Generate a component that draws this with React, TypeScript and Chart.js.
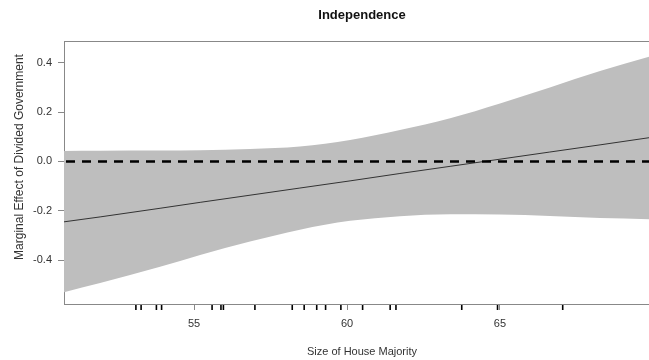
import React, { useEffect, useRef } from "react";
import { Chart, registerables } from "chart.js";

Chart.register(...registerables);

// ---- data ----
const xValues = [50.75, 51.93, 53.89, 55.2, 56.83, 58.46, 60.1, 61.73, 63.37, 65.0, 66.63, 68.27, 69.87, 70.23];
const estimate = [-0.245, -0.225, -0.19, -0.166, -0.137, -0.108, -0.079, -0.049, -0.02, 0.009, 0.038, 0.067, 0.096, 0.102];
const upperCI = [0.042, 0.043, 0.044, 0.045, 0.05, 0.06, 0.087, 0.127, 0.175, 0.235, 0.3, 0.366, 0.424, 0.437];
const lowerCI = [-0.53, -0.493, -0.427, -0.379, -0.325, -0.277, -0.241, -0.222, -0.214, -0.215, -0.221, -0.229, -0.234, -0.236];
const rugValues = [53.1, 53.27, 53.77, 53.94, 55.59, 55.88, 55.96, 56.99, 58.21, 58.6, 59.01, 59.3, 59.8, 60.51, 61.41, 61.6, 63.75, 64.92, 67.05];
const referenceLine = [0, 0];
const xTicks = [55, 60, 65];
const yTicks = [-0.4, -0.2, 0, 0.2, 0.4];
const xRange = [50.75, 70.23];
const yRange = [-0.578, 0.488];
const titleText = "Independence";
const xLabel = "Size of House Majority";
const yLabel = "Marginal Effect of Divided Government";

const FONT = "'Liberation Sans', Arial, Helvetica, sans-serif";

const decorPlugin = {
  id: "decor",
  afterDraw(chart: any) {
    const { ctx, chartArea, scales } = chart;
    const xs = scales.x;
    ctx.save();
    // top border
    ctx.strokeStyle = "#888";
    ctx.lineWidth = 1;
    ctx.beginPath();
    ctx.moveTo(chartArea.left, chartArea.top + 0.5);
    ctx.lineTo(chartArea.right, chartArea.top + 0.5);
    ctx.stroke();
    // rug
    ctx.strokeStyle = "#000";
    ctx.lineWidth = 1.6;
    rugValues.forEach((v) => {
      const px = xs.getPixelForValue(v);
      ctx.beginPath();
      ctx.moveTo(px, chartArea.bottom + 1);
      ctx.lineTo(px, chartArea.bottom + 6);
      ctx.stroke();
    });
    // title
    const cx = (chartArea.left + chartArea.right) / 2;
    ctx.fillStyle = "#111";
    ctx.font = `bold 13px ${FONT}`;
    ctx.textAlign = "center";
    ctx.textBaseline = "middle";
    ctx.fillText(titleText, cx, 15);
    // x label
    ctx.fillStyle = "#333";
    ctx.font = `11px ${FONT}`;
    ctx.textBaseline = "alphabetic";
    ctx.fillText(xLabel, cx, 355);
    // y label
    ctx.translate(20, 157);
    ctx.rotate(-Math.PI / 2);
    ctx.font = `12px ${FONT}`;
    ctx.textBaseline = "middle";
    ctx.fillText(yLabel, 0, 0);
    ctx.restore();
  },
};

export default function App() {
  const ref = useRef<HTMLCanvasElement>(null);
  useEffect(() => {
    if (!ref.current) return;
    const pts = (ys: number[]) => xValues.map((x, i) => ({ x, y: ys[i] }));
    const chart = new Chart(ref.current, {
      type: "line",
      data: {
        datasets: [
          {
            data: xRange.map((x, i) => ({ x, y: referenceLine[i] })),
            borderColor: "#000",
            borderWidth: 2.5,
            borderDash: [9, 7],
            borderDashOffset: -2,
            pointRadius: 0,
            fill: false,
          },
          {
            data: pts(estimate),
            borderColor: "#333",
            borderWidth: 1,
            pointRadius: 0,
            fill: false,
          },
          {
            data: pts(upperCI),
            borderColor: "rgba(0,0,0,0)",
            borderWidth: 0,
            backgroundColor: "#BEBEBE",
            pointRadius: 0,
            cubicInterpolationMode: "monotone",
            fill: "+1",
          },
          {
            data: pts(lowerCI),
            borderColor: "rgba(0,0,0,0)",
            borderWidth: 0,
            pointRadius: 0,
            cubicInterpolationMode: "monotone",
            fill: false,
          },
        ],
      },
      options: {
        animation: false,
        responsive: false,
        layout: { padding: { top: 41, right: 20, left: 0, bottom: 0 } },
        plugins: {
          legend: { display: false },
          tooltip: { enabled: false },
          title: { display: false },
        },
        scales: {
          x: {
            type: "linear",
            min: xRange[0],
            max: xRange[1],
            afterFit: (s: any) => {
              s.height = 56;
            },
            afterBuildTicks: (s: any) => {
              s.ticks = xTicks.map((v) => ({ value: v }));
            },
            ticks: {
              padding: 7,
              color: "#333",
              font: { family: FONT, size: 11 },
              maxRotation: 0,
              autoSkip: false,
              callback: (v: any) => String(v),
            },
            grid: { display: true, drawOnChartArea: false, drawTicks: true, tickLength: 6, color: "#888" },
            border: { display: true, color: "#888", width: 1 },
          },
          y: {
            type: "linear",
            min: yRange[0],
            max: yRange[1],
            afterFit: (s: any) => {
              s.width = 64;
            },
            afterBuildTicks: (s: any) => {
              s.ticks = yTicks.map((v) => ({ value: v }));
            },
            ticks: {
              padding: 6,
              color: "#333",
              font: { family: FONT, size: 11 },
              autoSkip: false,
              callback: (v: any) => Number(v).toFixed(1),
            },
            grid: { display: true, drawOnChartArea: false, drawTicks: true, tickLength: 6, color: "#888" },
            border: { display: true, color: "#888", width: 1 },
          },
        },
      },
      plugins: [decorPlugin],
    } as any);
    return () => chart.destroy();
  }, []);
  return (
    <div
      style={{
        position: "fixed",
        left: 0,
        top: 0,
        width: 649,
        height: 360,
        overflow: "hidden",
        background: "#fff",
      }}
    >
      <canvas ref={ref} width={680} height={360} style={{ display: "block", width: 680, height: 360 }} />
    </div>
  );
}
